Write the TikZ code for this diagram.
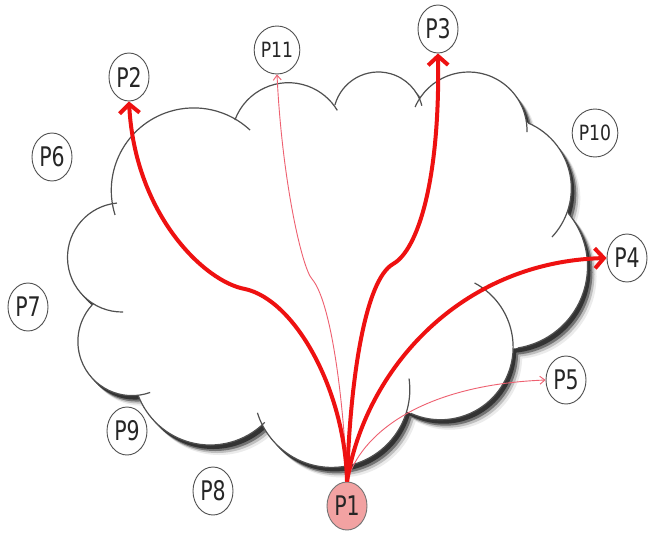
\documentclass[tikz,border=0pt]{standalone}
\usepackage{fontspec}
\usetikzlibrary{shapes.geometric,arrows.meta}
\newfontfamily\pfont{DejaVu Sans}[FakeStretch=0.76]
\newfontfamily\pfontb{DejaVu Sans}[FakeStretch=0.82]
\definecolor{arrowred}{HTML}{EE1111}
\definecolor{thinred}{HTML}{EE6070}
\definecolor{pinkfill}{HTML}{F2A2A2}
\definecolor{outl}{HTML}{505050}
\newcommand\cloudbody[3]{%
 \begin{scope}[shift={(#1,#2)}]
 \fill[#3] (193.8,190.4) circle[radius=82.5] (122.1,257.4) circle[radius=54.6]
   (132,341.5) circle[radius=54.1] (210.2,367.9) circle[radius=77.1]
   (331.8,389.4) circle[radius=78] (440.5,347.1) circle[radius=72.6]
   (504.8,266.3) circle[radius=82.7] (500.3,188.3) circle[radius=71]
   (468.6,130.4) circle[radius=58.4] (378.3,117) circle[radius=45]
   (288.4,139.7) circle[radius=57];
 \fill[#3] (193.8,190.4) -- (122.1,257.4) -- (132,341.5) -- (210.2,367.9)
   -- (331.8,389.4) -- (440.5,347.1) -- (504.8,266.3) -- (500.3,188.3)
   -- (468.6,130.4) -- (378.3,117) -- (288.4,139.7) -- cycle;
 \end{scope}}
\newcommand\cloudlobe[5]{%
 \draw[lobeline] (#1,#2) ++(#3:#5) arc[start angle=#3, end angle=#4, radius=#5];}
\begin{document}
\begin{tikzpicture}[x=1pt,y=-1pt,
  pn/.style={ellipse, draw=outl, line width=0.9pt, minimum width=40pt,
    minimum height=48pt, inner sep=0pt, fill=white, text=black!85,
    font=\pfont\fontsize{27}{27}\selectfont},
  pnsmall/.style={pn, font=\pfontb\fontsize{21}{21}\selectfont},
  bigarrow/.style={draw=arrowred, line width=4pt,
    -{Straight Barb[length=9pt,width=20pt]}},
  smallarrow/.style={draw=thinred, line width=0.9pt,
    -{Straight Barb[length=5pt,width=8pt]}},
  lobeline/.style={draw=outl, line width=1.2pt}]
\fill[white] (0,0) rectangle (652,533);
\useasboundingbox (0,0) rectangle (652,533);
% shadow and body
\cloudbody{9}{10}{black!8}
\cloudbody{7}{8}{black!25}
\cloudbody{5}{6}{black!55}
\cloudbody{3}{4}{black!80}
\cloudbody{0}{0}{white}
% outline arcs
\cloudlobe{193.8}{190.4}{162.7}{313}{82.5}
\cloudlobe{288.4}{139.7}{200.2}{329}{57}
\cloudlobe{378.3}{117}{195.5}{345.5}{45}
\cloudlobe{468.6}{130.4}{203.6}{361.6}{58.4}
\cloudlobe{500.3}{188.3}{-67}{43.3}{71}
\cloudlobe{504.8}{266.3}{-40}{81}{82.7}
\cloudlobe{440.5}{347.1}{-62}{114}{72.6}
\cloudlobe{331.8}{389.4}{-8}{162.5}{78}
\cloudlobe{210.2}{367.9}{45}{159.4}{77.1}
\cloudlobe{132}{341.5}{70.4}{225}{54.1}
\cloudlobe{122.1}{257.4}{89}{264.6}{54.6}
% nodes
\node[pn, fill=pinkfill, draw=black!55] (P1) at (347,506) {P1};
\node[pn] (P2) at (129,77) {P2};
\node[pn] (P3) at (438,29) {P3};
\node[pn] (P4) at (627,258) {P4};
\node[pn] (P5) at (566,380) {P5};
\node[pn] (P6) at (52,157) {P6};
\node[pn] (P7) at (28,307) {P7};
\node[pn] (P8) at (213,491) {P8};
\node[pn] (P9) at (127,431) {P9};
\node[pnsmall] (P10) at (595,133) {P10};
\node[pnsmall] (P11) at (277,50) {P11};
% connectors
\draw[smallarrow] (P1.north) .. controls (343,390) and (330,300) .. (312,279)
  .. controls (302,268) and (282,180) .. (P11.south);
\draw[smallarrow] (P1.north) .. controls (360,435) and (420,385) .. (P5.west);
\draw[bigarrow] (P1.north) .. controls (345,390) and (295,300) .. (245,289)
  .. controls (205,282) and (135,215) .. (P2.south);
\draw[bigarrow] (P1.north) .. controls (350,380) and (365,280) .. (393,264)
  .. controls (418,250) and (440,180) .. (P3.south);
\draw[bigarrow] (P1.north) .. controls (365,370) and (460,262) .. (P4.west);
\end{tikzpicture}
\end{document}
